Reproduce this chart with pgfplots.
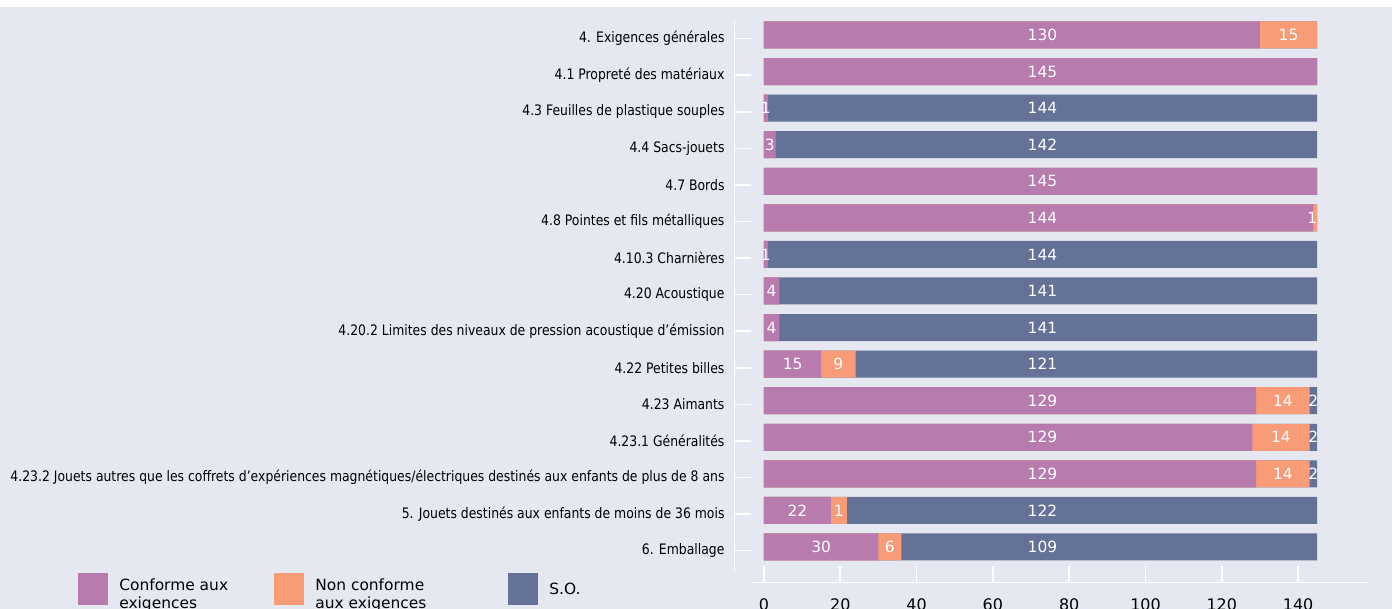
\documentclass[border=0pt]{standalone}
\usepackage{pgfplots}
\pgfplotsset{compat=1.18}
\usepackage{pgfplotstable}
\usepackage{fontspec}
\setmainfont{DejaVu Sans}
\newfontfamily\condfont[FakeStretch=0.86]{DejaVu Sans}
\definecolor{bgc}{HTML}{E5E8F0}
\definecolor{cpur}{HTML}{B77BAE}
\definecolor{cora}{HTML}{F89C77}
\definecolor{cblu}{HTML}{657298}

% a, b, c: segment lengths as drawn; la, lb, lc: printed labels
\pgfplotstableread{
y a b c la lb lc
14 130 15 0 130 15 0
13 145 0 0 145 0 0
12 1 0 144 1 0 144
11 3 0 142 3 0 142
10 145 0 0 145 0 0
9 144 1 0 144 1 0
8 1 0 144 1 0 144
7 4 0 141 4 0 141
6 4 0 141 4 0 141
5 15 9 121 15 9 121
4 129 14 2 129 14 2
3 128 15 2 129 14 2
2 129 14 2 129 14 2
1 17.5 4.2 123.3 22 1 122
0 30 6 109 30 6 109
}\data

\begin{document}
\begin{tikzpicture}
\path[use as bounding box] (0,0) rectangle (1392bp,609bp);
\clip (0,0) rectangle (1392bp,609bp);
\fill[white] (0,0) rectangle (1392bp,609bp);
\fill[bgc] (0,0) rectangle (1392bp,602bp);
\begin{axis}[
  at={(734bp,26bp)}, anchor=south west,
  x=3.815bp, y=36.57bp,
  xmin=-7.86, xmax=158.5, ymin=-0.985, ymax=14.41,
  axis x line=bottom, axis y line=left,
  axis line style={draw=none},
  tick align=inside,
  major tick length=17bp,
  tick style={white, line width=1.6bp},
  xtick={0,20,...,140},
  ytick={-0.1,0.9,1.9,2.9,3.9,4.9,5.9,6.9,7.9,8.9,9.9,10.9,11.9,12.9,13.9},
  yticklabels={
    {6. Emballage},
    {5. Jouets destinés aux enfants de moins de 36 mois},
    {4.23.2 Jouets autres que les coffrets d’expériences magnétiques/électriques destinés aux enfants de plus de 8 ans},
    {4.23.1 Généralités},
    {4.23 Aimants},
    {4.22 Petites billes},
    {4.20.2 Limites des niveaux de pression acoustique d’émission},
    {4.20 Acoustique},
    {4.10.3 Charnières},
    {4.8 Pointes et fils métalliques},
    {4.7 Bords},
    {4.4 Sacs-jouets},
    {4.3 Feuilles de plastique souples},
    {4.1 Propreté des matériaux},
    {4. Exigences générales}},
  yticklabel style={font=\condfont\fontsize{14.5}{17}\selectfont, text=black, xshift=-6bp},
  xticklabel style={font=\fontsize{16}{18}\selectfont, text=black, yshift=-12.5bp},
  /pgf/number format/assume math mode=true,
  legend columns=3,
  legend style={at={(axis description cs:-1.0331,-0.0107)}, anchor=west,
    draw=none, fill=none, inner sep=0pt, outer sep=0pt,
    font=\fontsize{15.5}{18}\selectfont,
    nodes={inner sep=0pt, text depth=0pt},
    /tikz/every odd column/.append style={column sep=11bp},
    /tikz/every even column/.append style={column sep=0bp}},
  legend image code/.code={\fill[#1] (0bp,-16bp) rectangle (30bp,16bp);},
  every node near coord/.append style={anchor=center, text=white, font=\fontsize{15.5}{18}\selectfont},
]
\addlegendimage{fill=cpur, draw=none}
\addlegendentry{\parbox{155bp}{Conforme aux\\exigences}}
\addlegendimage{fill=cora, draw=none}
\addlegendentry{\parbox{193bp}{Non conforme\\aux exigences}}
\addlegendimage{fill=cblu, draw=none}
\addlegendentry{S.O.}

\addplot[forget plot, xbar, bar width=27bp, bar shift=0pt, fill=cblu, draw=none]
  table[x expr=\thisrow{a}+\thisrow{b}+\thisrow{c}, y=y] {\data};
\addplot[forget plot, xbar, bar width=27bp, bar shift=0pt, fill=cora, draw=none]
  table[x expr=\thisrow{a}+\thisrow{b}, y=y] {\data};
\addplot[forget plot, xbar, bar width=27bp, bar shift=0pt, fill=cpur, draw=none]
  table[x=a, y=y] {\data};

\addplot[forget plot, draw=none, mark=none, point meta=explicit symbolic,
  nodes near coords={\ifdim\pgfplotspointmeta pt>0pt \pgfplotspointmeta\fi}]
  table[x expr={\thisrow{a}>100 ? 73 : \thisrow{a}/2}, y=y, meta=la] {\data};
\addplot[forget plot, draw=none, mark=none, point meta=explicit symbolic,
  nodes near coords={\ifdim\pgfplotspointmeta pt>0pt \pgfplotspointmeta\fi}]
  table[x expr={\thisrow{b}<2 ? \thisrow{a}+\thisrow{b}/2-0.8 : \thisrow{a}+\thisrow{b}/2}, y=y, meta=lb] {\data};
\addplot[forget plot, draw=none, mark=none, point meta=explicit symbolic,
  nodes near coords={\ifdim\pgfplotspointmeta pt>0pt \pgfplotspointmeta\fi}]
  table[x expr={\thisrow{c}>100 ? 73 : \thisrow{a}+\thisrow{b}+\thisrow{c}/2}, y=y, meta=lc] {\data};

\draw[white, line width=1.6bp] (axis cs:-7.86,14.41) -- (axis cs:-7.86,-0.684);
\draw[white, line width=2bp] (axis cs:-3.4,-0.985) -- (axis cs:158.5,-0.985);
\end{axis}
\end{tikzpicture}
\end{document}
